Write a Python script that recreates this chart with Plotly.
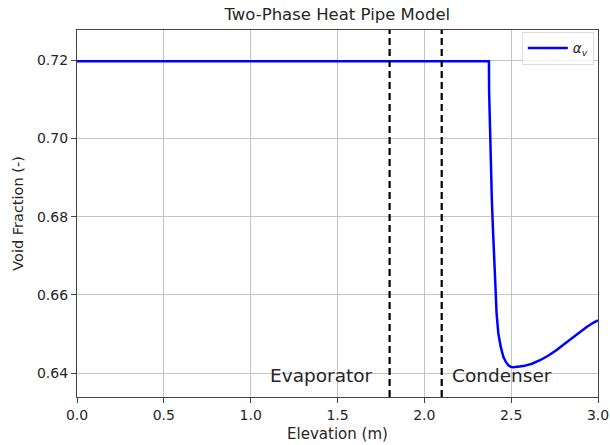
import plotly.graph_objects as go

# Data
elevation = [0.0, 0.5, 1.0, 1.5, 2.0, 2.30, 2.372, 2.373, 2.376, 2.380, 2.384, 2.389,
             2.395, 2.401, 2.407, 2.416, 2.426, 2.440, 2.455, 2.470, 2.484, 2.498,
             2.512, 2.540, 2.570, 2.620, 2.666, 2.715, 2.762, 2.810, 2.858, 2.900,
             2.935, 2.970, 3.0]
void_fraction = [0.7197, 0.7197, 0.7197, 0.7197, 0.7197, 0.7197, 0.7197, 0.7120, 0.7060,
                 0.6990, 0.6920, 0.6840, 0.6770, 0.6710, 0.6638, 0.6553, 0.6502, 0.6467,
                 0.6442, 0.6428, 0.6420, 0.6416, 0.6415, 0.6416, 0.6418, 0.6424, 0.6433,
                 0.6445, 0.6459, 0.6476, 0.6493, 0.6507, 0.6518, 0.6528, 0.6535]
region_bounds = [1.8, 2.1]
region_labels = ["Evaporator", "Condenser"]
region_label_x = [1.408, 2.450]
region_label_y = 0.6395
x_ticks = [0.0, 0.5, 1.0, 1.5, 2.0, 2.5, 3.0]
y_ticks = [0.64, 0.66, 0.68, 0.70, 0.72]

FONT = "DejaVu Sans"
TXT = "#262626"

fig = go.Figure()
fig.add_trace(go.Scatter(x=elevation, y=void_fraction, mode="lines",
                         line=dict(color="#0000ff", width=2.5),
                         name="<i>α</i><sub><i>v</i></sub>"))

for xb in region_bounds:
    fig.add_shape(type="line", x0=xb, x1=xb, y0=0, y1=1, xref="x", yref="paper",
                  line=dict(color="black", width=2.2, dash="7px,4px"))

for lbl, lx in zip(region_labels, region_label_x):
    fig.add_annotation(x=lx, y=region_label_y, text=lbl, showarrow=False,
                       font=dict(family=FONT, size=18.5, color=TXT))

axis_common = dict(showline=True, linecolor="#444444", linewidth=1.2, mirror=True,
                   ticks="outside", ticklen=5, tickcolor="#444444", automargin=False,
                   showgrid=True, gridcolor="#c4c4c4", gridwidth=1.2, zeroline=False,
                   tickfont=dict(family=FONT, size=14, color=TXT))

fig.update_xaxes(range=[0, 3.0], tickvals=x_ticks, tickformat=".1f",
                 title=dict(text="Elevation (m)", font=dict(family=FONT, size=15, color=TXT),
                            standoff=6),
                 **axis_common)
fig.update_yaxes(range=[0.6339, 0.7277], tickvals=y_ticks, tickformat=".2f",
                 title=dict(text="Void Fraction (-)", font=dict(family=FONT, size=14.5, color=TXT),
                            standoff=9),
                 **axis_common)

fig.update_layout(
    width=610, height=445,
    margin=dict(l=77, r=12, t=30, b=48),
    plot_bgcolor="white", paper_bgcolor="white",
    title=dict(text="Two-Phase Heat Pipe Model", x=0.553, xanchor="center", y=0.968,
               yanchor="middle", font=dict(family=FONT, size=16.5, color=TXT)),
    showlegend=True,
    legend=dict(x=0.992, y=0.995, xanchor="right", yanchor="top", itemwidth=40,
                bgcolor="rgba(255,255,255,0.8)", bordercolor="#dddddd", borderwidth=1,
                font=dict(family=FONT, size=13.5, color=TXT)),
    font=dict(family=FONT),
)

fig.write_html("out.html")
